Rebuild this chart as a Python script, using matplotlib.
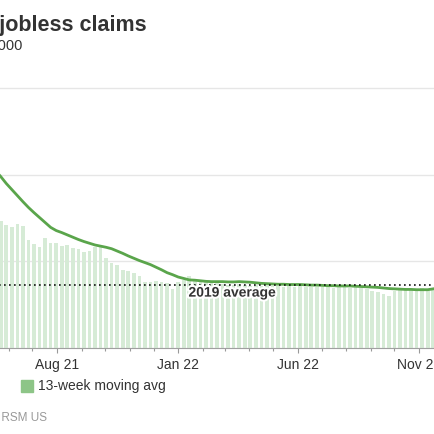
import pandas as pd
import matplotlib
matplotlib.use("Agg")
import matplotlib.pyplot as plt
import matplotlib.dates as md
import matplotlib.patheffects as pe
from matplotlib.patches import Rectangle

plt.rcParams['font.family'] = ['Liberation Sans', 'DejaVu Sans']

# weekly initial claims (thousands), week ending Saturday
weeks = pd.date_range('2021-05-15', '2022-11-26', freq='W-SAT')
claims = [444, 441, 427, 421, 430, 424, 375, 361, 351, 381,
          365, 365, 354, 357, 347, 342, 333, 335, 349, 349,
          311, 294, 288, 271, 266, 259, 251, 228, 230, 233,
          229, 225, 204, 229, 236, 250, 239, 236, 232, 226,
          224, 222, 220, 218, 221, 217, 216, 219, 215, 217,
          214, 216, 213, 215, 212, 214, 211, 213, 212, 210,
          212, 209, 211, 210, 208, 210, 207, 205, 199, 193,
          188, 181, 199, 201, 200, 203, 204, 207, 206, 208, 210]
moving_avg = [615, 594, 570, 549, 528, 507, 487, 469, 452, 435,
              418, 407, 400, 392, 384, 376, 369, 363, 357, 353,
              349, 344, 336, 328, 319, 311, 303, 296, 289, 280,
              271, 261, 254, 246, 241, 236, 235, 233, 231, 230,
              230, 230, 229, 229, 230, 229, 228, 226, 224, 223,
              222, 221, 221, 220, 220, 220, 219, 218, 218, 217,
              216, 216, 215, 215, 215, 214, 213, 212, 211, 210,
              208, 206, 205, 204, 203, 203, 202, 202, 202, 205, 208]
avg_2019 = 220
tick_dates = pd.to_datetime(['2021-08-01', '2022-01-01', '2022-06-01', '2022-11-01'])

W = H = 435
fig = plt.figure(figsize=(4.35, 4.35), dpi=100)

# the chart is shown cropped, so the plot area runs past both edges
d0 = md.date2num(pd.Timestamp('2021-01-01'))
d1 = md.date2num(pd.Timestamp('2023-01-31'))
da = md.date2num(pd.Timestamp('2021-08-01'))
db = md.date2num(pd.Timestamp('2022-11-01'))
ppd = (419 - 57) / (db - da)
left_px = 57 - (da - d0) * ppd
width_px = (d1 - d0) * ppd
ymax = 950
height_px = (349 - 89.3) * ymax / 900
ax = fig.add_axes([left_px / W, (H - 349) / H, width_px / W, height_px / H])

ax.bar(weeks, claims, width=4.6, color='#d6ebd6', zorder=2)
ax.plot(weeks, moving_avg, color='#5aa54b', lw=2, zorder=4)
ax.axhline(avg_2019, color='#111111', lw=1.2, ls=(0, (1, 2)), zorder=5)
ax.text(pd.Timestamp('2022-01-14'), 178, '2019 average', fontsize=10,
        fontweight='bold', color='#333333', va='baseline', zorder=6,
        path_effects=[pe.withStroke(linewidth=3, foreground='white')])

ax.set_xlim(d0, d1)
ax.set_ylim(0, ymax)
ax.set_yticks([0, 300, 600, 900])
ax.yaxis.grid(True, color='#e6e6e6', lw=1)
ax.set_axisbelow(True)
ax.tick_params(axis='y', left=False, labelleft=False)

ax.set_xticks(tick_dates)
ax.xaxis.set_major_formatter(md.DateFormatter('%b %y'))
ax.xaxis.set_minor_locator(md.MonthLocator())
ax.tick_params(axis='x', which='major', length=3.5, width=0.8, color='#999999',
               labelsize=10, labelcolor='#333333', pad=3)
ax.tick_params(axis='x', which='minor', length=2.5, width=0.8, color='#999999')
for s in ['top', 'left', 'right']:
    ax.spines[s].set_visible(False)
ax.spines['bottom'].set_color('#a0a0a0')
ax.spines['bottom'].set_linewidth(0.8)

# title block and footer, also cropped at the left
fig.text(147 / W, 1 - 31.5 / H, 'Initial jobless claims', ha='right', va='baseline',
         fontsize=15.5, fontweight='bold', color='#333333')
fig.text(22.7 / W, 1 - 50 / H, 'Seasonally adjusted, in 000', ha='right',
         va='baseline', fontsize=10.5, color='#333333')

fig.add_artist(Rectangle((20.7 / W, 1 - 392.7 / H), 12 / W, 12 / H,
                         transform=fig.transFigure, color='#8dc587'))
fig.text(38.3 / W, 1 - 390.5 / H, '13-week moving avg', ha='left', va='baseline',
         fontsize=10, color='#333333')
fig.text(47 / W, 1 - 421 / H, 'Source: Department of Labor, RSM US', ha='right',
         va='baseline', fontsize=8.5, color='#999999')

fig.savefig('out.png', dpi=100)
